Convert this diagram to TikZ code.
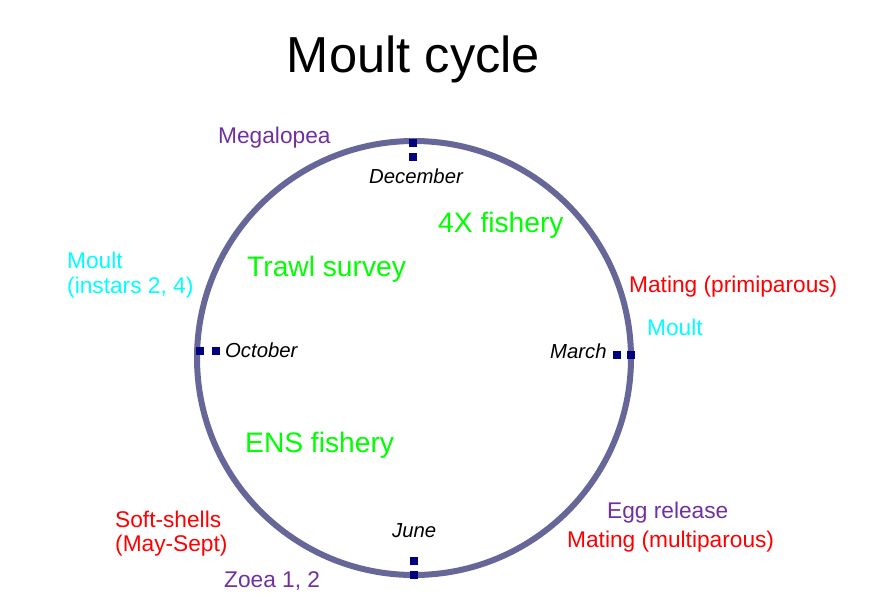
\documentclass[tikz,border=0pt]{standalone}
\usepackage{fontspec}
\setmainfont{Liberation Sans}
\definecolor{ringcol}{HTML}{666699}
\definecolor{markcol}{HTML}{000080}
\definecolor{purp}{HTML}{7030A0}
\definecolor{cyn}{HTML}{00FFFF}
\definecolor{rd}{HTML}{FF0000}
\definecolor{grn}{HTML}{00FF00}
\tikzset{
  lbl/.style={anchor=base west, inner sep=0pt, font=\fontsize{22.7}{26}\selectfont},
  datelbl/.style={anchor=base west, inner sep=0pt, font=\fontsize{20.3}{23}\selectfont\itshape, text=black},
  biglbl/.style={anchor=base west, inner sep=0pt, font=\fontsize{28.2}{32}\selectfont, text=grn},
  sq/.style={fill=markcol, draw=none, minimum size=8pt, inner sep=0pt},
  ring/.style={draw=ringcol, line width=6pt, circle, minimum size=434pt, inner sep=0pt}
}
\begin{document}
\begin{tikzpicture}[x=1pt,y=-1pt]
\useasboundingbox (0,0) rectangle (894,607);
\node[anchor=base, inner sep=0pt, font=\fontsize{50.6}{58}\selectfont] (title) at (413.5,73) {Moult cycle};
\node[ring] (cyc) at (414,358) {};
% markers
\node[sq] (d1) at (413,143) {};
\node[sq] (d2) at (413,157) {};
\node[sq] (o1) at (200,350.5) {};
\node[sq] (o2) at (215.5,350.5) {};
\node[sq] (m1) at (617,354.5) {};
\node[sq] (m2) at (630.5,354.5) {};
\node[sq] (j1) at (413.5,560.5) {};
\node[sq] (j2) at (413.5,575) {};
% dates
\node[datelbl] (dec) at (369,183) {December};
\node[datelbl] (oct) at (225,357) {October};
\node[datelbl] (mar) at (550,358) {March};
\node[datelbl] (jun) at (392,537) {June};
% green
\node[biglbl] (fx) at (438,232) {4X fishery};
\node[biglbl] (trawl) at (247,276) {Trawl survey};
\node[biglbl] (ens) at (245,452) {ENS fishery};
% outer labels
\node[lbl, text=purp] (mega) at (218,144) {Megalopea};
\node[lbl, text=cyn] (moultL1) at (67,268) {Moult};
\node[lbl, text=cyn] (moultL2) at (67,293) {(instars 2, 4)};
\node[lbl, text=rd] (matp) at (629,292) {Mating (primiparous)};
\node[lbl, text=cyn] (moultR) at (647,335) {Moult};
\node[lbl, text=purp] (egg) at (607,518) {Egg release};
\node[lbl, text=rd] (matm) at (567,547) {Mating (multiparous)};
\node[lbl, text=rd] (soft1) at (115,527) {Soft-shells};
\node[lbl, text=rd] (soft2) at (115,551) {(May-Sept)};
\node[lbl, text=purp] (zoea) at (224,587) {Zoea 1, 2};
\end{tikzpicture}
\end{document}
